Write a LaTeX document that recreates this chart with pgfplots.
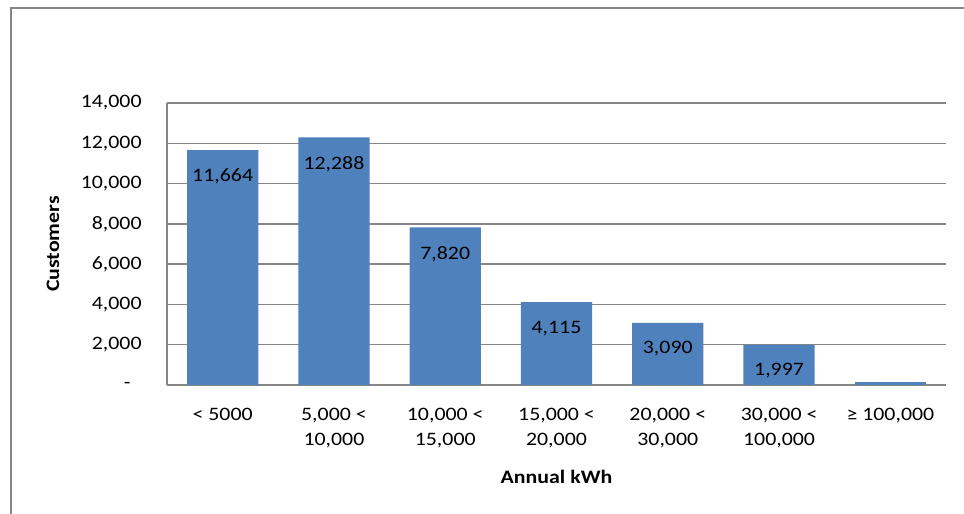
\documentclass[border=0pt]{standalone}
\usepackage{fontspec}
\setmainfont{Carlito}[FakeStretch=1.15]
\usepackage{pgfplots}
\pgfplotsset{compat=1.18}
\definecolor{barblue}{HTML}{4F81BD}
\definecolor{gridgray}{RGB}{134,134,134}
\newcommand{\chartfont}{\fontsize{14.25}{18.75}\selectfont}

\begin{document}
\begin{tikzpicture}
% page frame, 964x514 px at 0.75pt per px
\path[use as bounding box] (0pt,0pt) rectangle (723pt,385.5pt);
\draw[gridgray, line width=1.8pt] (8.25pt,0pt) -- (8.25pt,379.5pt) -- (723pt,379.5pt);
\begin{axis}[
    at={(125.25pt,96.75pt)}, anchor=south west,
    scale only axis,
    width=584.25pt, height=211.5pt,
    ybar, bar width=0.64, bar shift=0pt,
    xmin=-0.5, xmax=6.5,
    ymin=0, ymax=14000,
    scaled y ticks=false,
    axis lines*=left,
    axis line style={gridgray, line width=1pt, -},
    ymajorgrids,
    grid style={gridgray, line width=1pt},
    major tick length=0pt,
    tick style={draw=none},
    xtick={0,...,6},
    xticklabels={{< 5000},{5,000 <\\10,000},{10,000 <\\15,000},{15,000 <\\20,000},{20,000 <\\30,000},{30,000 <\\100,000},{≥ 100,000}},
    xticklabel style={font=\chartfont, align=center, anchor=north, yshift=-14pt},
    ytick={0,2000,...,14000},
    yticklabels={{-\hphantom{0}},{2,000},{4,000},{6,000},{8,000},{10,000},{12,000},{14,000}},
    yticklabel style={font=\chartfont, anchor=east, xshift=-15.5pt},
    xlabel={\textbf{Annual kWh}},
    ylabel={\textbf{Customers}},
    every axis x label/.style={at={(rel axis cs:0.5,0)}, yshift=-69pt, anchor=center, font=\chartfont},
    every axis y label/.style={at={(rel axis cs:0,0.5)}, xshift=-85.5pt, anchor=center, rotate=90, font=\chartfont},
    clip=false,
]
\addplot[fill=barblue, draw=none,
    nodes near coords,
    nodes near coords style={anchor=north, yshift=-10.5pt, font=\chartfont, text=black,
        /pgf/number format/assume math mode=true, /pgf/number format/1000 sep={,}}]
    coordinates {(0,11664) (1,12288) (2,7820) (3,4115) (4,3090) (5,1997)};
\addplot[fill=barblue, draw=none]
    coordinates {(6,150)};
\end{axis}
\end{tikzpicture}
\end{document}
